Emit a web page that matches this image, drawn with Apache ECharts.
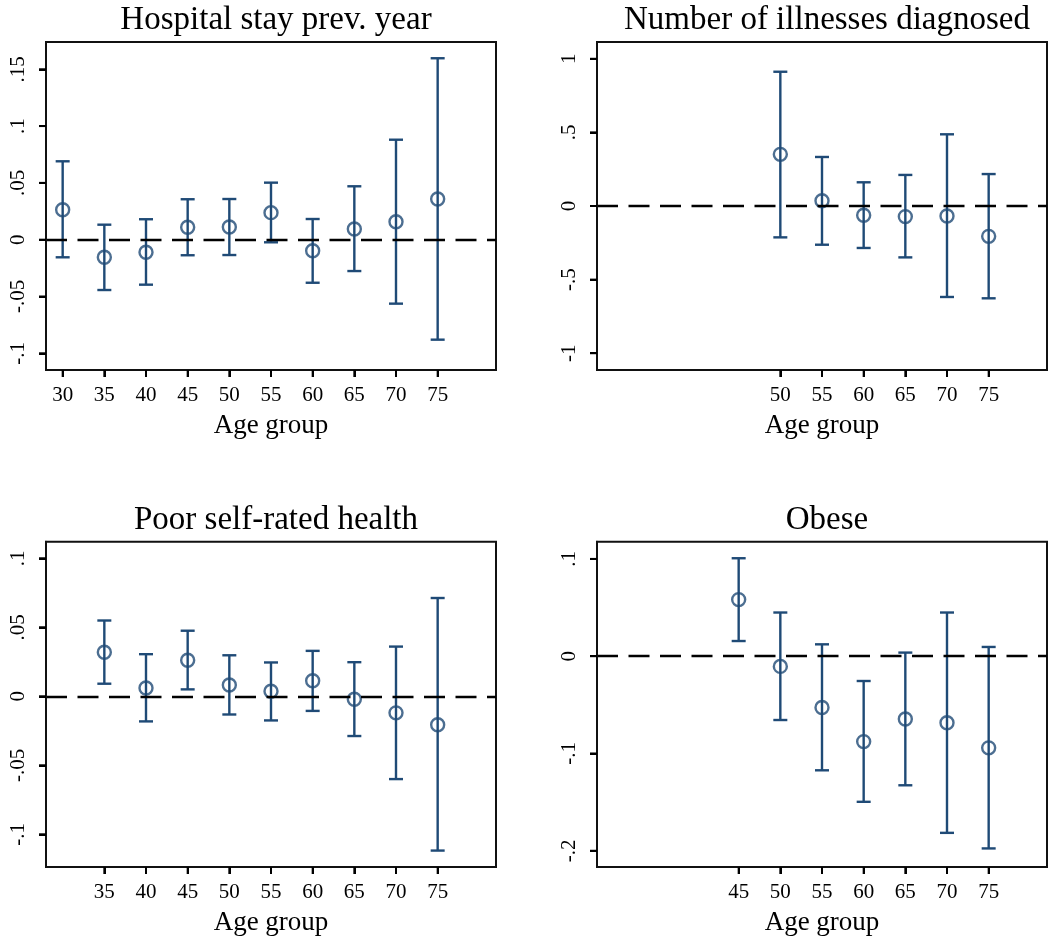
<!DOCTYPE html>
<html>
<head>
<meta charset="utf-8">
<script src="https://cdn.jsdelivr.net/npm/echarts@6/dist/echarts.min.js"></script>
<style>
  html, body { margin: 0; padding: 0; background: #fff; }
  #chart { width: 1048px; height: 937px; }
</style>
</head>
<body>
<div id="chart"></div>
<script>
// Age-group coefficient estimates with 95% confidence intervals

// Hospital stay previous year
const hospAges = [30, 35, 40, 45, 50, 55, 60, 65, 70, 75];
const hospEst  = [0.0264, -0.0155, -0.0111, 0.0109, 0.0112, 0.0238, -0.0097, 0.0094, 0.0158, 0.0358];
const hospLo   = [-0.0155, -0.0443, -0.0396, -0.0137, -0.0135, -0.0023, -0.0379, -0.0276, -0.0563, -0.0880];
const hospHi   = [0.0690, 0.0132, 0.0180, 0.0356, 0.0358, 0.0502, 0.0182, 0.0470, 0.0880, 0.1597];
const hospYTicks = [-0.1, -0.05, 0, 0.05, 0.1, 0.15];

// Number of illnesses diagnosed
const illAges = [50, 55, 60, 65, 70, 75];
const illEst  = [0.351, 0.036, -0.063, -0.072, -0.068, -0.206];
const illLo   = [-0.213, -0.263, -0.285, -0.349, -0.618, -0.627];
const illHi   = [0.912, 0.333, 0.161, 0.211, 0.487, 0.217];
const illYTicks = [-1, -0.5, 0, 0.5, 1];

// Poor self-rated health
const poorAges = [35, 40, 45, 50, 55, 60, 65, 70, 75];
const poorEst  = [0.0319, 0.0060, 0.0261, 0.0082, 0.0036, 0.0113, -0.0022, -0.0120, -0.0206];
const poorLo   = [0.0091, -0.0182, 0.0050, -0.0132, -0.0175, -0.0106, -0.0288, -0.0600, -0.1118];
const poorHi   = [0.0549, 0.0305, 0.0475, 0.0297, 0.0245, 0.0329, 0.0247, 0.0360, 0.0712];
const poorYTicks = [-0.1, -0.05, 0, 0.05, 0.1];

// Obese
const obeseAges = [45, 50, 55, 60, 65, 70, 75];
const obeseEst  = [0.0582, -0.0105, -0.0527, -0.0878, -0.0646, -0.0684, -0.0942];
const obeseLo   = [0.0156, -0.0656, -0.1173, -0.1497, -0.1327, -0.1816, -0.1976];
const obeseHi   = [0.1007, 0.0449, 0.0122, -0.0255, 0.0037, 0.0449, 0.0095];
const obeseYTicks = [-0.2, -0.1, 0, 0.1];

const titles = ['Hospital stay prev. year', 'Number of illnesses diagnosed', 'Poor self-rated health', 'Obese'];
const xAxisName = 'Age group';

const NAVY = '#1f4a76';
const INK = '#111111';
const FONT = '"Liberation Serif", "Times New Roman", serif';
const X_MIN = 28, X_MAX = 82;
const TICK_LEN = 7;

const panels = [
  { ages: hospAges,  est: hospEst,  lo: hospLo,  hi: hospHi,  ticks: hospYTicks,  yMin: -0.1147, yMax: 0.174,  left: 46,  top: 42 },
  { ages: illAges,   est: illEst,   lo: illLo,   hi: illHi,   ticks: illYTicks,   yMin: -1.114,  yMax: 1.114,  left: 597, top: 42 },
  { ages: poorAges,  est: poorEst,  lo: poorLo,  hi: poorHi,  ticks: poorYTicks,  yMin: -0.1237, yMax: 0.112,  left: 46,  top: 541.7 },
  { ages: obeseAges, est: obeseEst, lo: obeseLo, hi: obeseHi, ticks: obeseYTicks, yMin: -0.2167, yMax: 0.1177, left: 597, top: 541.7 }
];
const GRID_W = 450, GRID_H = 328;

// Stata-style tick labels: drop the leading zero (".05", "-.1")
function stataFmt(v) {
  const r = Math.round(v * 1000) / 1000;
  let s = String(r);
  s = s.replace(/^0\./, '.').replace(/^-0\./, '-.');
  return s;
}

// Confidence interval: vertical whisker with end caps
function ciRender(params, api) {
  const x = api.value(0);
  const pLo = api.coord([x, api.value(1)]);
  const pHi = api.coord([x, api.value(2)]);
  const cap = 7;
  const st = { stroke: NAVY, lineWidth: 2.4 };
  return {
    type: 'group',
    children: [
      { type: 'line', shape: { x1: pLo[0], y1: pLo[1], x2: pHi[0], y2: pHi[1] }, style: st },
      { type: 'line', shape: { x1: pLo[0] - cap, y1: pLo[1], x2: pLo[0] + cap, y2: pLo[1] }, style: st },
      { type: 'line', shape: { x1: pHi[0] - cap, y1: pHi[1], x2: pHi[0] + cap, y2: pHi[1] }, style: st }
    ]
  };
}

// Outward tick marks on the bottom (x) and left (y) edges of the plot box
function xTickRender(params, api) {
  const p = api.coord([api.value(0), api.value(1)]);
  return { type: 'line', shape: { x1: p[0], y1: p[1], x2: p[0], y2: p[1] + TICK_LEN },
           style: { stroke: '#000', lineWidth: 2 } };
}
function yTickRender(params, api) {
  const p = api.coord([api.value(0), api.value(1)]);
  return { type: 'line', shape: { x1: p[0] - TICK_LEN, y1: p[1], x2: p[0], y2: p[1] },
           style: { stroke: '#000', lineWidth: 2 } };
}

const option = {
  backgroundColor: '#fff',
  animation: false,
  title: [], grid: [], xAxis: [], yAxis: [], series: []
};

panels.forEach((p, i) => {
  option.title.push({
    text: titles[i],
    left: p.left + GRID_W / 2,
    top: p.top - 43,
    textAlign: 'center',
    textStyle: { fontFamily: FONT, fontSize: 33, fontWeight: 'normal', color: '#000' }
  });
  option.grid.push({
    left: p.left, top: p.top, width: GRID_W, height: GRID_H,
    show: true, borderColor: INK, borderWidth: 2,
    containLabel: false
  });
  option.xAxis.push({
    type: 'value', gridIndex: i, min: X_MIN, max: X_MAX, position: 'bottom', z: 10,
    name: xAxisName, nameLocation: 'middle', nameGap: 42,
    nameTextStyle: { fontFamily: FONT, fontSize: 27, color: '#000' },
    axisLine: { show: true, onZero: false, lineStyle: { color: INK, width: 2 } },
    splitLine: { show: false },
    axisTick: { show: true, inside: false, length: TICK_LEN, lineStyle: { color: '#000', width: 2 }, customValues: p.ages },
    axisLabel: { fontFamily: FONT, fontSize: 21, color: '#000', margin: 15, customValues: p.ages }
  });
  option.yAxis.push({
    type: 'value', gridIndex: i, min: p.yMin, max: p.yMax, position: 'left', z: 10,
    axisLine: { show: true, onZero: false, lineStyle: { color: INK, width: 2 } },
    splitLine: { show: false },
    axisTick: { show: true, inside: false, length: TICK_LEN, lineStyle: { color: '#000', width: 2 }, customValues: p.ticks },
    axisLabel: {
      fontFamily: FONT, fontSize: 21, color: '#000', margin: 17, rotate: 90,
      customValues: p.ticks, formatter: stataFmt
    }
  });
  option.series.push({
    type: 'custom', xAxisIndex: i, yAxisIndex: i, z: 2,
    renderItem: ciRender,
    data: p.ages.map((a, k) => [a, p.lo[k], p.hi[k]])
  });
  option.series.push({
    type: 'custom', xAxisIndex: i, yAxisIndex: i, z: 20, clip: false, silent: true,
    renderItem: xTickRender,
    data: p.ages.map(a => [a, p.yMin])
  });
  option.series.push({
    type: 'custom', xAxisIndex: i, yAxisIndex: i, z: 20, clip: false, silent: true,
    renderItem: yTickRender,
    data: p.ticks.map(v => [X_MIN, v])
  });
  option.series.push({
    type: 'scatter', xAxisIndex: i, yAxisIndex: i, z: 3,
    symbol: 'circle', symbolSize: 13,
    itemStyle: { color: 'rgba(255,255,255,0)', borderColor: NAVY, borderWidth: 2.4 },
    data: p.ages.map((a, k) => [a, p.est[k]]),
    markLine: {
      silent: true, symbol: 'none', z: 5,
      label: { show: false },
      lineStyle: { color: '#000', width: 2.4, type: [21, 10.5] },
      data: [{ yAxis: 0 }]
    }
  });
});

const chart = echarts.init(document.getElementById('chart'), null, { renderer: 'canvas' });
chart.setOption(option);
</script>
</body>
</html>
